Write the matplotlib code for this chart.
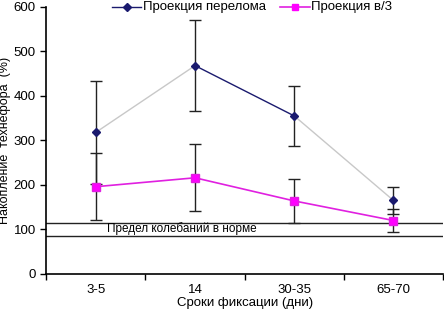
import matplotlib.pyplot as plt
import numpy as np

plt.rcParams['font.family'] = ['Liberation Sans', 'DejaVu Sans']

categories = ["3-5", "14", "30-35", "65-70"]
fracture = [318, 468, 355, 165]
fracture_err = [115, 103, 67, 31]
third = [196, 216, 164, 120]
third_err = [75, 75, 50, 26]
norm_low, norm_high = 85, 115

x = np.arange(len(categories))

fig = plt.figure(figsize=(4.44, 3.12), dpi=100)
ax = fig.add_axes([0.104, 0.122, 0.894, 0.856])

# error bars (black, capped)
ax.errorbar(x, fracture, yerr=fracture_err, fmt="none", ecolor="#222222",
            elinewidth=1, capsize=4, capthick=1, zorder=2)
ax.errorbar(x, third, yerr=third_err, fmt="none", ecolor="#222222",
            elinewidth=1, capsize=4, capthick=1, zorder=2)

# fracture projection: segments drawn in different shades
seg_colors = ["#c8c8c8", "#1a1a6e", "#c8c8c8"]
for i, c in enumerate(seg_colors):
    ax.plot(x[i:i + 2], fracture[i:i + 2], color=c, lw=1, zorder=3)
ax.plot(x, fracture, ls="none", marker="D", ms=4, color="#1a1a6e", zorder=4)
ax.plot(x, third, color="#e020e0", lw=1.2, marker="s", ms=5.5,
        mfc="#ff00ff", mec="#e020e0", zorder=4)

# norm band
ax.axhline(norm_high, color="#222222", lw=1)
ax.axhline(norm_low, color="#222222", lw=1)
ax.text(0.87, 101, "Предел колебаний в норме", fontsize=8.5, ha="center",
        va="center")

# legend drawn manually at top
lx = ax.transAxes
ax.plot([0.165, 0.24], [1.0, 1.0], transform=lx, color="#1a1a6e", lw=1,
        clip_on=False)
ax.plot([0.2025], [1.0], transform=lx, marker="D", ms=4, color="#1a1a6e",
        clip_on=False)
ax.text(0.245, 1.0, "Проекция перелома", transform=lx, fontsize=9.5,
        va="center", ha="left")
ax.plot([0.59, 0.665], [1.0, 1.0], transform=lx, color="#e020e0", lw=1.2,
        clip_on=False)
ax.plot([0.6275], [1.0], transform=lx, marker="s", ms=5, color="#ff00ff",
        clip_on=False)
ax.text(0.668, 1.0, "Проекция в/3", transform=lx, fontsize=9.5,
        va="center", ha="left")

ax.set_xlim(-0.5, 3.5)
ax.set_ylim(0, 600)
ax.set_yticks(range(0, 601, 100))
ax.set_xticks(x)
ax.set_xticklabels(categories)
ax.tick_params(axis="x", length=0, labelsize=9.5, pad=7)
ax.set_xticks(np.arange(-0.5, 3.6, 1), minor=True)
ax.tick_params(axis="x", which="minor", length=4, width=1)
ax.tick_params(axis="y", length=4, width=1, labelsize=9.5)

for s in ["top", "right"]:
    ax.spines[s].set_visible(False)
ax.spines["left"].set_linewidth(1.2)
ax.spines["bottom"].set_linewidth(1.2)

ax.set_xlabel("Сроки фиксации (дни)", fontsize=9.5, labelpad=1)
ax.set_ylabel("Накопление  технефора  (%)", fontsize=9, labelpad=2)

fig.savefig("out.png", dpi=100)
